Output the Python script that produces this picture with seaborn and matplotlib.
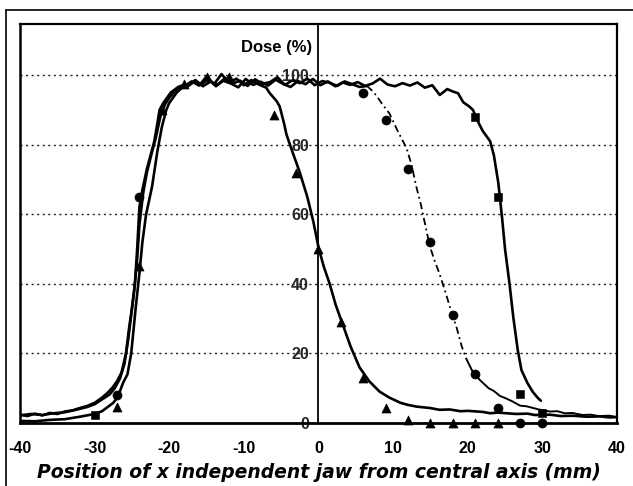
import numpy as np
import pandas as pd
import seaborn as sns
import matplotlib
matplotlib.use('Agg')
from matplotlib import pyplot as plt
from matplotlib.lines import Line2D

# profile A (jaw at 0 mm, triangles)
a_x = [-40, -38, -36, -34, -32, -30, -29, -28, -27.5, -27, -26.7, -26.2, -25.6, -25.1, -24.5, -24, -23.6, -23.1,
       -22.7, -22.3, -21.6, -21, -20.4, -20, -19.5, -19, -18.5, -18,
       -17, -16, -15, -14, -13, -12, -11, -10, -9, -8, -7,
       -6.6, -6, -5.6, -5.2, -4.6, -4.3, -3.5, -2.5, -1.5, -0.7, 0, 0.7, 1.5, 2.3, 3.3, 4.3, 5.5, 6.8,
       8.2, 9.5, 11, 12, 13.2, 15, 16.2, 17.6, 19, 20, 22, 23, 24, 26.5, 28, 29, 31, 32.5, 34, 36, 37.7, 39, 40]
a_y = [0.6, 0.5, 0.9, 1.1, 1.8, 2.6, 3.4, 5.0, 5.8, 7.2, 8.6, 11.5, 14.0, 20.0, 33.0, 43.0, 52.0, 60.0,
       64.0, 68.0, 78.0, 85.0, 90.0, 92.0, 93.5, 95.0, 96.0, 96.8,
       98.2, 97.0, 99.6, 97.4, 100.3, 97.8, 99.0, 97.1, 98.6, 97.3, 96.4,
       95.0, 93.5, 92.5, 91.0, 86.0, 83.0, 78.0, 72.0, 65.0, 58.0, 50.5, 45.0, 40.0, 34.0, 28.0, 22.0, 16.0, 12.0,
       9.0, 7.3, 5.8, 5.2, 4.7, 4.3, 3.8, 3.9, 3.4, 3.5, 3.2, 2.8, 3.0, 2.6, 2.7, 2.3, 2.4, 2.0, 2.1, 1.8, 1.9, 1.6, 1.7]

# profile B (jaw at 15 mm, circles)
b_x = [-40, -39, -38, -37, -36, -35, -34, -33, -32, -31, -30, -29, -28.3, -27.6, -27, -26.4, -25.8, -25.4, -25,
       -24.6, -24.3, -24, -23.6, -23, -22.5, -22, -21.6, -21.3, -20.8, -20.3, -19.8, -19.3, -18.8, -18.3,
       -17.5, -16.5, -15.5, -14.5, -13.5, -12.5, -11.5, -10.5, -9.5, -8.5, -7.5, -6.5, -5.5, -4.5, -3.5,
       -2.5, -1.5, -0.5, 0.5, 1.5, 2.5, 3.5, 4.5, 5.5, 6.5,
       7.2, 7.8, 8.6, 9.5, 10.6, 11.8, 12.5, 13.1, 13.7, 14.2, 14.9, 15.5, 16.2, 17.1, 17.8, 18.5, 19.2, 19.8,
       20.6, 21.6, 22.8, 23.5, 24.3, 25.2, 26, 27, 27.9, 29.5, 31, 32, 33, 34, 35.4, 36.5, 37.5, 39, 40]
b_y = [2.4, 2.0, 2.7, 2.2, 2.9, 2.6, 3.3, 3.6, 4.3, 4.9, 5.8, 7.3, 8.6, 10.2, 12.0, 14.5, 20.0, 27.0, 33.0,
       40.0, 50.0, 62.0, 67.0, 73.0, 77.0, 81.0, 86.0, 90.0, 92.0, 93.5, 95.0, 95.8, 96.6, 97.0,
       97.0, 98.6, 96.8, 98.1, 97.3, 99.2, 97.6, 98.4, 96.9, 98.8, 97.5, 98.0, 99.4, 97.2, 98.5,
       97.7, 99.0, 97.1, 98.3, 97.8, 96.9, 98.2, 97.4, 96.6, 96.9,
       95.5, 94.0, 91.5, 89.0, 84.0, 79.0, 74.0, 68.0, 63.0, 58.0, 51.0, 47.0, 43.0, 37.0, 32.0, 27.5, 22.0, 18.5,
       15.0, 12.4, 10.0, 9.2, 7.8, 7.0, 6.2, 5.0, 4.8, 3.9, 3.3, 3.4, 2.8, 2.9, 2.3, 2.4, 2.0, 2.1, 1.7]

# profile C (jaw at 25 mm, squares)
c_x = [-40, -38.5, -37, -35.5, -34, -32.5, -31, -30, -29, -28, -27.3, -26.6, -26, -25.5, -25.1, -24.7, -24.3,
       -24, -23.5, -23, -22.3, -21.8, -21.2, -20.6, -20, -19.2, -18.5,
       -17.75, -16.75, -15.75, -14.75, -13.75, -12.75, -11.75, -10.75, -9.75, -8.75, -7.75, -6.75, -5.75,
       -4.75, -3.75, -2.75, -1.75, -0.75, 0.25, 1.25, 2.25, 3.25, 4.25, 5.25, 6.25, 7.25, 8.25, 9.25, 10.25,
       11.25, 12.25, 13.25, 14.25, 15.25, 16.25, 17.25,
       18, 18.7, 19.4, 20.2, 20.7, 21.4, 22, 23, 23.5, 24.1, 24.6, 25, 25.6, 26.1, 26.7, 27.2, 28, 28.7, 29.4, 29.8]
c_y = [2.2, 2.6, 2.3, 2.8, 3.1, 3.8, 4.6, 5.4, 6.8, 8.2, 10.0, 12.8, 17.0, 24.0, 31.0, 38.0, 47.0,
       57.0, 66.0, 72.0, 78.0, 82.0, 88.0, 91.5, 93.5, 95.5, 96.5,
       96.4, 98.0, 97.2, 99.0, 96.8, 98.4, 97.6, 96.5, 98.9, 97.2, 98.1, 97.0, 98.7,
       97.5, 96.6, 98.3, 97.4, 98.9, 97.1, 98.2, 96.8, 97.9, 97.2, 98.0, 96.9, 97.6, 99.0, 97.3, 96.8,
       97.7, 97.0, 97.9, 96.4, 97.1, 94.3, 96.0,
       95.3, 94.8, 92.2, 91.0, 90.0, 86.5, 84.0, 81.0, 77.0, 69.0, 59.0, 50.0, 40.0, 30.5, 21.0, 15.2, 11.5, 9.0, 7.2, 6.4]

# measured points that stand out of the profiles
tri_x = [-27, -24, -21, -18, -15, -12, -6, -3, 0, 3, 6, 9, 12, 15, 18, 21, 24]
tri_y = [4.6, 45, 90, 97.5, 99.5, 99.5, 88.5, 72, 50, 29, 13, 4.3, 1, 0, 0, 0, 0]
circ_x = [-27, -24, 6, 9, 12, 15, 18, 21, 24, 27, 30]
circ_y = [8, 65, 95, 87, 73, 52, 31, 14, 4.3, 0, 0]
sq_x = [-30, 21, 24, 27, 30]
sq_y = [2.3, 88, 65, 8.3, 2.8]

x_ticks = [-40, -30, -20, -10, 0, 10, 20, 30, 40]
y_ticks = [0, 20, 40, 60, 80, 100]

sns.set_theme(style='white')
plt.rcParams['font.family'] = ['Liberation Sans', 'DejaVu Sans']
plt.rcParams['axes.unicode_minus'] = False

fig = plt.figure(figsize=(6.33, 4.86), dpi=100)
ax = fig.add_axes([0.0316, 0.1296, 0.9431, 0.821])

lw = 1.9
sns.lineplot(x=a_x, y=a_y, ax=ax, color='black', lw=lw, sort=False, estimator=None)
b_split = b_x.index(19.8) + 1
sns.lineplot(x=b_x[:59], y=b_y[:59], ax=ax, color='black', lw=lw, sort=False, estimator=None)
sns.lineplot(x=b_x[58:b_split], y=b_y[58:b_split], ax=ax, color='black', lw=1.3, ls=(0, (4, 2, 1, 2)),
             sort=False, estimator=None)
sns.lineplot(x=b_x[b_split - 1:], y=b_y[b_split - 1:], ax=ax, color='black', lw=1.4, sort=False, estimator=None)
sns.lineplot(x=c_x, y=c_y, ax=ax, color='black', lw=lw, sort=False, estimator=None)

sns.scatterplot(x=tri_x, y=tri_y, ax=ax, marker='^', s=42, color='black', edgecolor='black', zorder=5,
                clip_on=False)
sns.scatterplot(x=circ_x, y=circ_y, ax=ax, marker='o', s=42, color='black', edgecolor='black', zorder=5,
                clip_on=False)
sns.scatterplot(x=sq_x, y=sq_y, ax=ax, marker='s', s=26, color='black', edgecolor='black', zorder=5,
                clip_on=False)

ax.set_xlim(-40, 40)
ax.set_ylim(0, 114.7)
ax.set_xticks(x_ticks)
ax.set_yticks(y_ticks)
for v in y_ticks[1:]:
    ax.axhline(v, color='#222222', lw=1.0, ls=(0, (1.5, 2.5)), zorder=1)

# y axis sits on x = 0, box edges kept
ax.spines['left'].set_position(('data', 0))
ax.spines['left'].set_linewidth(1.3)
ax.axvline(-40, color='black', lw=1.8, clip_on=False)
for s in ['top', 'right']:
    ax.spines[s].set_linewidth(1.6)
    ax.spines[s].set_color('black')
ax.spines['bottom'].set_linewidth(2.0)
ax.spines['bottom'].set_color('black')
ax.spines['left'].set_color('black')

ax.tick_params(axis='y', length=0, pad=7, labelsize=11.5)
ax.tick_params(axis='x', direction='in', length=4, width=1, pad=13, labelsize=11.5, colors='black')
for t in ax.get_xticklabels() + ax.get_yticklabels():
    t.set_fontweight('bold')
ax.set_xlabel('Position of x independent jaw from central axis (mm)', fontsize=13.5, style='italic',
              fontweight='bold', labelpad=5, color='black', family=['DejaVu Sans'])
ax.set_ylabel('')
ax.text(-0.9, 108, 'Dose (%)', ha='right', va='center', fontsize=12, fontweight='bold', color='black')

# outer frame of the scanned figure
fig.add_artist(Line2D([6 / 633, 1], [1 - 10 / 486, 1 - 10 / 486], color='black', lw=1.2))
fig.add_artist(Line2D([6 / 633, 6 / 633], [0, 1 - 10 / 486], color='black', lw=1.2))

fig.savefig('out.png', dpi=100)
